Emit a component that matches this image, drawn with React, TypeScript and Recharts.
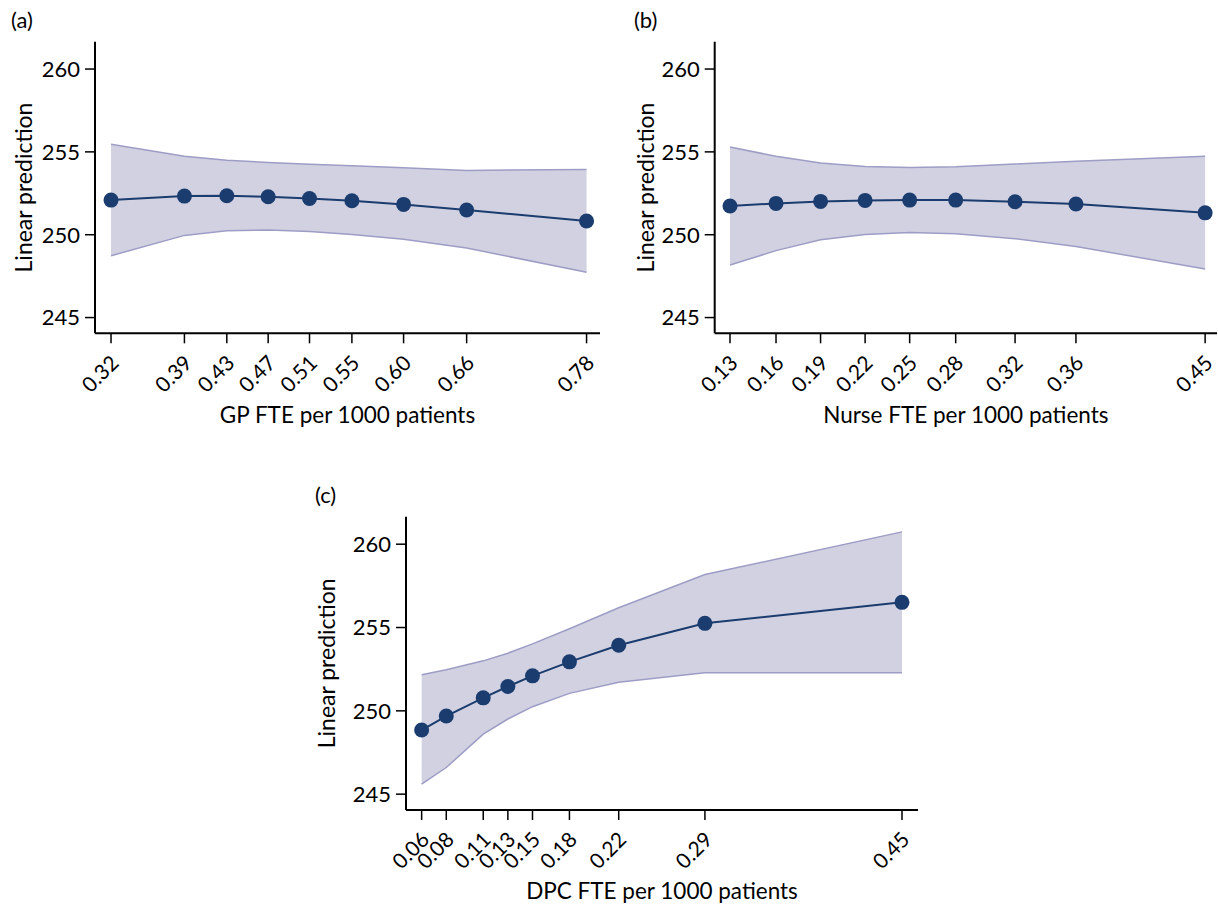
import { Area, ComposedChart, Label, Line, XAxis, YAxis } from "recharts";

// GP panel
const gpX = [0.32, 0.391, 0.432, 0.472, 0.512, 0.553, 0.603, 0.664, 0.78];
const gpTicks = ["0.32", "0.39", "0.43", "0.47", "0.51", "0.55", "0.60", "0.66", "0.78"];
const gpFit = [252.09, 252.33, 252.35, 252.29, 252.19, 252.05, 251.83, 251.49, 250.83];
const gpUpper = [255.46, 254.74, 254.5, 254.36, 254.26, 254.16, 254.04, 253.88, 253.94];
const gpLower = [248.73, 249.96, 250.24, 250.28, 250.2, 250.02, 249.72, 249.2, 247.73];

// Nurse panel
const nurseX = [0.13, 0.161, 0.191, 0.221, 0.251, 0.282, 0.322, 0.363, 0.45];
const nurseTicks = ["0.13", "0.16", "0.19", "0.22", "0.25", "0.28", "0.32", "0.36", "0.45"];
const nurseFit = [251.73, 251.89, 252.01, 252.07, 252.09, 252.09, 251.99, 251.85, 251.32];
const nurseUpper = [255.3, 254.73, 254.33, 254.12, 254.06, 254.1, 254.27, 254.43, 254.73];
const nurseLower = [248.17, 249.04, 249.7, 250.02, 250.14, 250.06, 249.76, 249.29, 247.93];

// DPC panel
const dpcX = [0.06, 0.08, 0.11, 0.13, 0.15, 0.18, 0.22, 0.29, 0.45];
const dpcTicks = ["0.06", "0.08", "0.11", "0.13", "0.15", "0.18", "0.22", "0.29", "0.45"];
const dpcFit = [248.85, 249.69, 250.78, 251.46, 252.1, 252.94, 253.94, 255.25, 256.51];
const dpcUpper = [252.16, 252.46, 253.0, 253.46, 254.02, 254.93, 256.19, 258.18, 260.74];
const dpcLower = [245.6, 246.6, 248.6, 249.51, 250.25, 251.05, 251.71, 252.28, 252.28];

const yTicks = [245, 250, 255, 260];

const NAVY = "#1b3c6e";
const BAND_FILL = "#d1d1e2";
const BAND_STROKE = "#9d9dc6";
const FONT = "Lato, 'Open Sans', sans-serif";

type PanelProps = {
  tag: string;
  xLabel: string;
  xs: number[];
  tickLabels: string[];
  fit: number[];
  upper: number[];
  lower: number[];
  xDomain: [number, number];
  left: number;
  top: number;
  width: number;
  height: number;
  yAxisWidth: number;
  yLabelOffset: number;
  plotTop: number;
  plotRight: number;
  xAxisHeight: number;
  xLabelOffset: number;
  bottom: number;
  tagLeft: number;
  tagTop: number;
};

function Panel(p: PanelProps) {
  const rows = p.xs.map((x, i) => ({
    x,
    fit: p.fit[i],
    band: [p.lower[i], p.upper[i]],
  }));

  const renderTick = (props: any) => {
    const { x, y, payload } = props;
    const idx = p.xs.indexOf(payload.value);
    const text = idx >= 0 ? p.tickLabels[idx] : String(payload.value);
    return (
      <text
        transform={`translate(${x + 9},${y + 19}) rotate(-45)`}
        textAnchor="end"
        fontSize={21}
        fontFamily={FONT}
        fill="#000"
      >
        {text}
      </text>
    );
  };

  return (
    <>
      <div
        style={{
          position: "absolute",
          left: p.tagLeft,
          top: p.tagTop,
          fontFamily: FONT,
          fontSize: 22,
          color: "#000",
        }}
      >
        {p.tag}
      </div>
      <div style={{ position: "absolute", left: p.left, top: p.top }}>
        <ComposedChart
          width={p.width}
          height={p.height}
          data={rows}
          margin={{ top: p.plotTop, right: p.plotRight, left: 0, bottom: p.bottom }}
        >
          <XAxis
            dataKey="x"
            type="number"
            domain={p.xDomain}
            ticks={p.xs}
            interval={0}
            allowDataOverflow
            height={p.xAxisHeight}
            tickSize={10}
            axisLine={{ stroke: "#000", strokeWidth: 2 }}
            tickLine={{ stroke: "#000", strokeWidth: 1.5 }}
            tick={renderTick}
          >
            <Label
              value={p.xLabel}
              position="insideBottom"
              offset={p.xLabelOffset}
              style={{ fontSize: 22.5, fontFamily: FONT, fill: "#000" }}
            />
          </XAxis>
          <YAxis
            type="number"
            domain={[244.05, 261.65]}
            ticks={yTicks}
            allowDataOverflow
            width={p.yAxisWidth}
            tickSize={10}
            tickMargin={5}
            axisLine={{ stroke: "#000", strokeWidth: 2 }}
            tickLine={{ stroke: "#000", strokeWidth: 1.5 }}
            tick={{ fontSize: 22, fontFamily: FONT, fill: "#000" }}
          >
            <Label
              value="Linear prediction"
              angle={-90}
              position="insideLeft"
              offset={p.yLabelOffset}
              style={{ fontSize: 23, fontFamily: FONT, fill: "#000", textAnchor: "middle" }}
            />
          </YAxis>
          <Area
            dataKey="band"
            type="linear"
            fill={BAND_FILL}
            fillOpacity={1}
            stroke={BAND_STROKE}
            strokeWidth={1.5}
            isAnimationActive={false}
            activeDot={false}
          />
          <Line
            dataKey="fit"
            type="linear"
            stroke={NAVY}
            strokeWidth={2}
            dot={{ r: 7.5, fill: NAVY, stroke: NAVY, strokeWidth: 0 }}
            activeDot={false}
            isAnimationActive={false}
          />
        </ComposedChart>
      </div>
    </>
  );
}

export default function App() {
  return (
    <div
      style={{
        position: "absolute",
        left: 0,
        top: 0,
        width: 1218,
        height: 904,
        background: "#fff",
        overflow: "hidden",
      }}
    >
      <Panel
        tag="(a)"
        xLabel="GP FTE per 1000 patients"
        xs={gpX}
        tickLabels={gpTicks}
        fit={gpFit}
        upper={gpUpper}
        lower={gpLower}
        xDomain={[0.3045, 0.793]}
        left={0}
        top={0}
        width={612}
        height={440}
        yAxisWidth={95}
        yLabelOffset={24}
        plotTop={41.7}
        plotRight={12}
        xAxisHeight={100}
        xLabelOffset={10}
        bottom={6.7}
        tagLeft={11}
        tagTop={6}
      />
      <Panel
        tag="(b)"
        xLabel="Nurse FTE per 1000 patients"
        xs={nurseX}
        tickLabels={nurseTicks}
        fit={nurseFit}
        upper={nurseUpper}
        lower={nurseLower}
        xDomain={[0.1197, 0.458]}
        left={620}
        top={0}
        width={598}
        height={440}
        yAxisWidth={94.7}
        yLabelOffset={25.7}
        plotTop={41.7}
        plotRight={1}
        xAxisHeight={100}
        xLabelOffset={10}
        bottom={6.7}
        tagLeft={634}
        tagTop={6}
      />
      <Panel
        tag="(c)"
        xLabel="DPC FTE per 1000 patients"
        xs={dpcX}
        tickLabels={dpcTicks}
        fit={dpcFit}
        upper={dpcUpper}
        lower={dpcLower}
        xDomain={[0.0473, 0.463]}
        left={300}
        top={475}
        width={630}
        height={429}
        yAxisWidth={106}
        yLabelOffset={26.5}
        plotTop={41.7}
        plotRight={12}
        xAxisHeight={94}
        xLabelOffset={5}
        bottom={0}
        tagLeft={315}
        tagTop={481}
      />
    </div>
  );
}
